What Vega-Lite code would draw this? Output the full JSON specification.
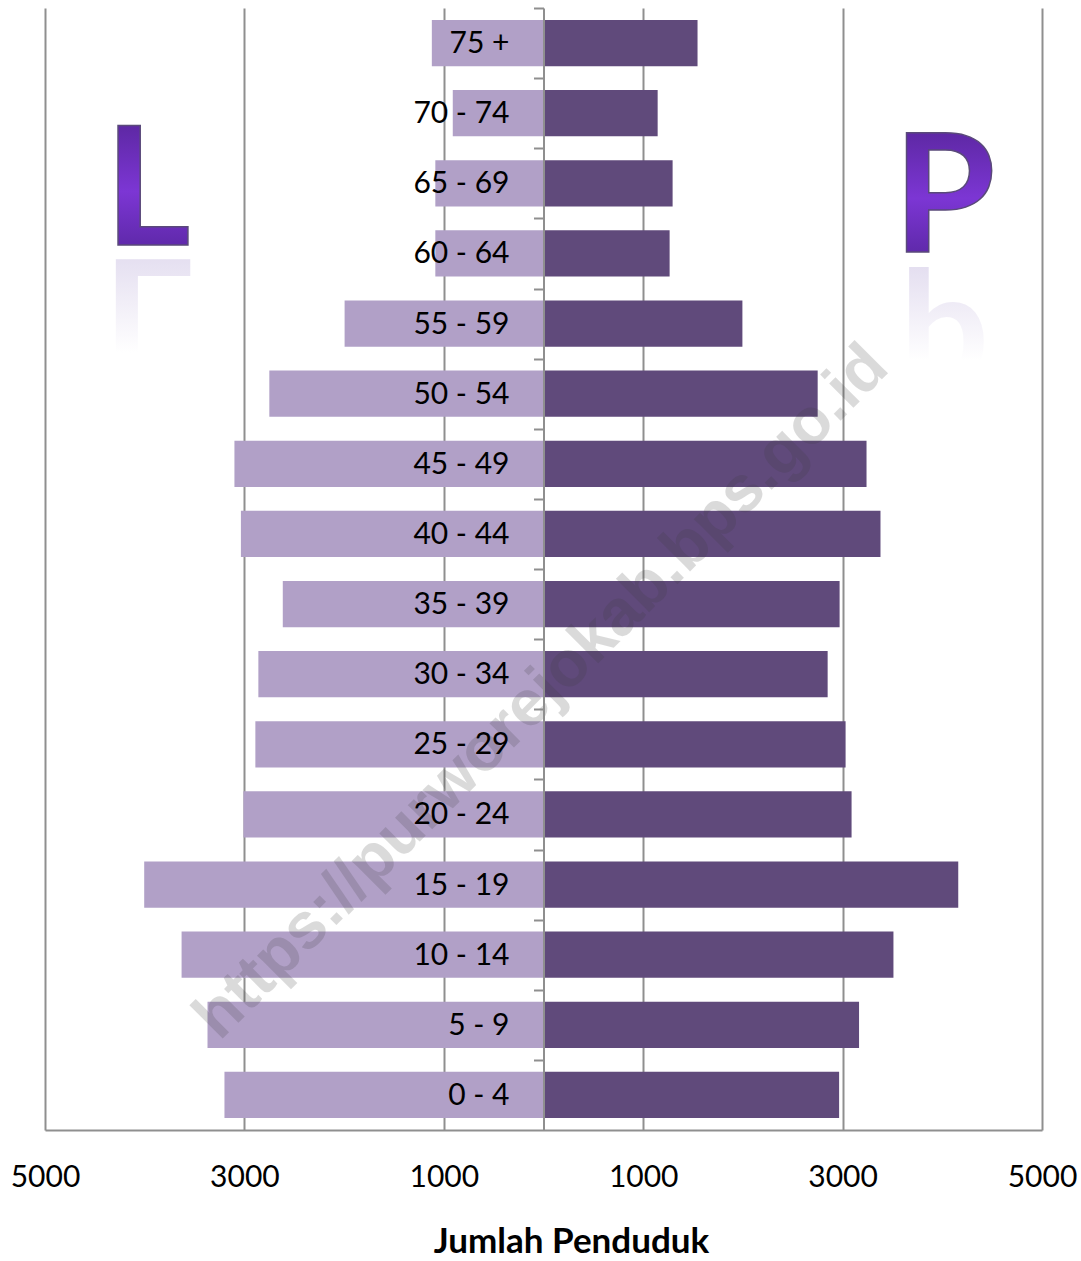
{
  "$schema": "https://vega.github.io/schema/vega-lite/v6.json",
  "width": 997,
  "height": 1122,
  "autosize": {"type": "none"},
  "padding": {"left": 45, "top": 8, "right": 39, "bottom": 131},
  "background": "#ffffff",
  "config": {"view": {"stroke": null}, "font": "Lato"},
  "datasets": {
    "pop": [
      {"age": "75 +", "L": 1120, "P": 1545},
      {"age": "70 - 74", "L": 910, "P": 1145},
      {"age": "65 - 69", "L": 1085, "P": 1295},
      {"age": "60 - 64", "L": 1085, "P": 1265},
      {"age": "55 - 59", "L": 1995, "P": 1995},
      {"age": "50 - 54", "L": 2750, "P": 2750},
      {"age": "45 - 49", "L": 3100, "P": 3240},
      {"age": "40 - 44", "L": 3035, "P": 3380},
      {"age": "35 - 39", "L": 2615, "P": 2970},
      {"age": "30 - 34", "L": 2860, "P": 2850},
      {"age": "25 - 29", "L": 2890, "P": 3030},
      {"age": "20 - 24", "L": 3010, "P": 3090},
      {"age": "15 - 19", "L": 4005, "P": 4160},
      {"age": "10 - 14", "L": 3630, "P": 3510},
      {"age": "5 - 9", "L": 3370, "P": 3165},
      {"age": "0 - 4", "L": 3200, "P": 2965}
    ],
    "letterL": [{"t": "L", "v": -3970, "age": "60 - 64"}],
    "letterP": [{"t": "P", "v": 4020, "age": "60 - 64"}],
    "reflL": [{"t": "Γ", "v": -3970, "age": "55 - 59"}],
    "reflP": [{"t": "b", "v": 4020, "age": "55 - 59"}],
    "mark": [{"t": "https://purworejokab.bps.go.id", "v": -200, "age": "30 - 34"}]
  },
  "data": {"name": "pop"},
  "encoding": {
    "y": {
      "field": "age",
      "type": "nominal",
      "sort": ["75 +", "70 - 74", "65 - 69", "60 - 64", "55 - 59", "50 - 54", "45 - 49", "40 - 44", "35 - 39", "30 - 34", "25 - 29", "20 - 24", "15 - 19", "10 - 14", "5 - 9", "0 - 4"],
      "scale": {"paddingInner": 0.34, "paddingOuter": 0.17},
      "axis": {
        "orient": "left",
        "offset": -498.5,
        "title": null,
        "labels": false,
        "grid": false,
        "domainColor": "#8f8f8f",
        "domainWidth": 2,
        "tickColor": "#8f8f8f",
        "tickWidth": 2,
        "tickSize": 10,
        "bandPosition": 0,
        "tickOffset": -11.9,
        "zindex": 1
      }
    }
  },
  "layer": [
    {
      "transform": [{"calculate": "-datum.L", "as": "Lneg"}],
      "mark": {"type": "bar", "color": "#B1A0C7"},
      "encoding": {
        "x": {
          "field": "Lneg",
          "type": "quantitative",
          "scale": {"domain": [-5000, 5000], "nice": false, "zero": false},
          "axis": {
            "values": [-5000, -3000, -1000, 1000, 3000, 5000],
            "labelExpr": "format(abs(datum.value), 'd')",
            "grid": true,
            "gridColor": "#8f8f8f",
            "gridWidth": 2,
            "domainColor": "#8f8f8f",
            "domainWidth": 2,
            "ticks": false,
            "tickSize": 0,
            "labelPadding": 32,
            "labelFontSize": 30,
            "labelFont": "Lato",
            "labelColor": "#000000",
            "labelFlush": false,
            "labelOverlap": false,
            "title": "Jumlah Penduduk",
            "titleFont": "Lato",
            "titleFontSize": 35,
            "titleFontWeight": "bold",
            "titleColor": "#000000",
            "titlePadding": 32,
            "titleX": 526
          }
        }
      }
    },
    {
      "mark": {"type": "bar", "color": "#604A7B"},
      "encoding": {
        "x": {"field": "P", "type": "quantitative"}
      }
    },
    {
      "data": {"name": "mark"},
      "mark": {"type": "text", "font": "Liberation Sans", "fontWeight": "bold", "fontSize": 65, "angle": -45, "align": "center", "baseline": "middle", "dy": 25, "color": "#3a3a3a", "opacity": 0.18},
      "encoding": {
        "x": {"field": "v", "type": "quantitative"},
        "text": {"field": "t"}
      }
    },
    {
      "mark": {"type": "text", "font": "Lato", "fontSize": 30, "align": "right", "baseline": "middle", "dx": -34, "dy": 1, "color": "#000000"},
      "encoding": {
        "x": {"datum": 0, "type": "quantitative"},
        "text": {"field": "age"}
      }
    },
    {
      "data": {"name": "reflL"},
      "mark": {"type": "text", "font": "Lato", "fontWeight": "bold", "fontSize": 163, "align": "center", "baseline": "alphabetic", "dy": 53,
        "fill": {"gradient": "linear", "x1": 0, "y1": 0, "x2": 0, "y2": 1, "stops": [{"offset": 0, "color": "#d9d1ea"}, {"offset": 0.7, "color": "#ffffff"}, {"offset": 1, "color": "#ffffff"}]}},
      "encoding": {
        "x": {"field": "v", "type": "quantitative"},
        "text": {"field": "t"}
      }
    },
    {
      "data": {"name": "reflP"},
      "mark": {"type": "text", "font": "Lato", "fontWeight": "bold", "fontSize": 158, "align": "center", "baseline": "alphabetic", "dy": 60,
        "fill": {"gradient": "linear", "x1": 0, "y1": 0, "x2": 0, "y2": 1, "stops": [{"offset": 0, "color": "#d9d1ea"}, {"offset": 0.7, "color": "#ffffff"}, {"offset": 1, "color": "#ffffff"}]}},
      "encoding": {
        "x": {"field": "v", "type": "quantitative"},
        "text": {"field": "t"}
      }
    },
    {
      "data": {"name": "letterL"},
      "mark": {"type": "text", "font": "Lato", "fontWeight": "bold", "fontSize": 165, "align": "center", "baseline": "alphabetic", "dy": -8, "stroke": "#5a4a7a", "strokeWidth": 1.5,
        "fill": {"gradient": "linear", "x1": 0, "y1": 0, "x2": 0, "y2": 1, "stops": [{"offset": 0, "color": "#4a1f85"}, {"offset": 0.55, "color": "#7c36d4"}, {"offset": 1, "color": "#4d2190"}]}},
      "encoding": {
        "x": {"field": "v", "type": "quantitative"},
        "text": {"field": "t"}
      }
    },
    {
      "data": {"name": "letterP"},
      "mark": {"type": "text", "font": "Lato", "fontWeight": "bold", "fontSize": 165, "align": "center", "baseline": "alphabetic", "dy": -1, "stroke": "#5a4a7a", "strokeWidth": 1.5,
        "fill": {"gradient": "linear", "x1": 0, "y1": 0, "x2": 0, "y2": 1, "stops": [{"offset": 0, "color": "#4a1f85"}, {"offset": 0.55, "color": "#7c36d4"}, {"offset": 1, "color": "#4d2190"}]}},
      "encoding": {
        "x": {"field": "v", "type": "quantitative"},
        "text": {"field": "t"}
      }
    }
  ]
}
